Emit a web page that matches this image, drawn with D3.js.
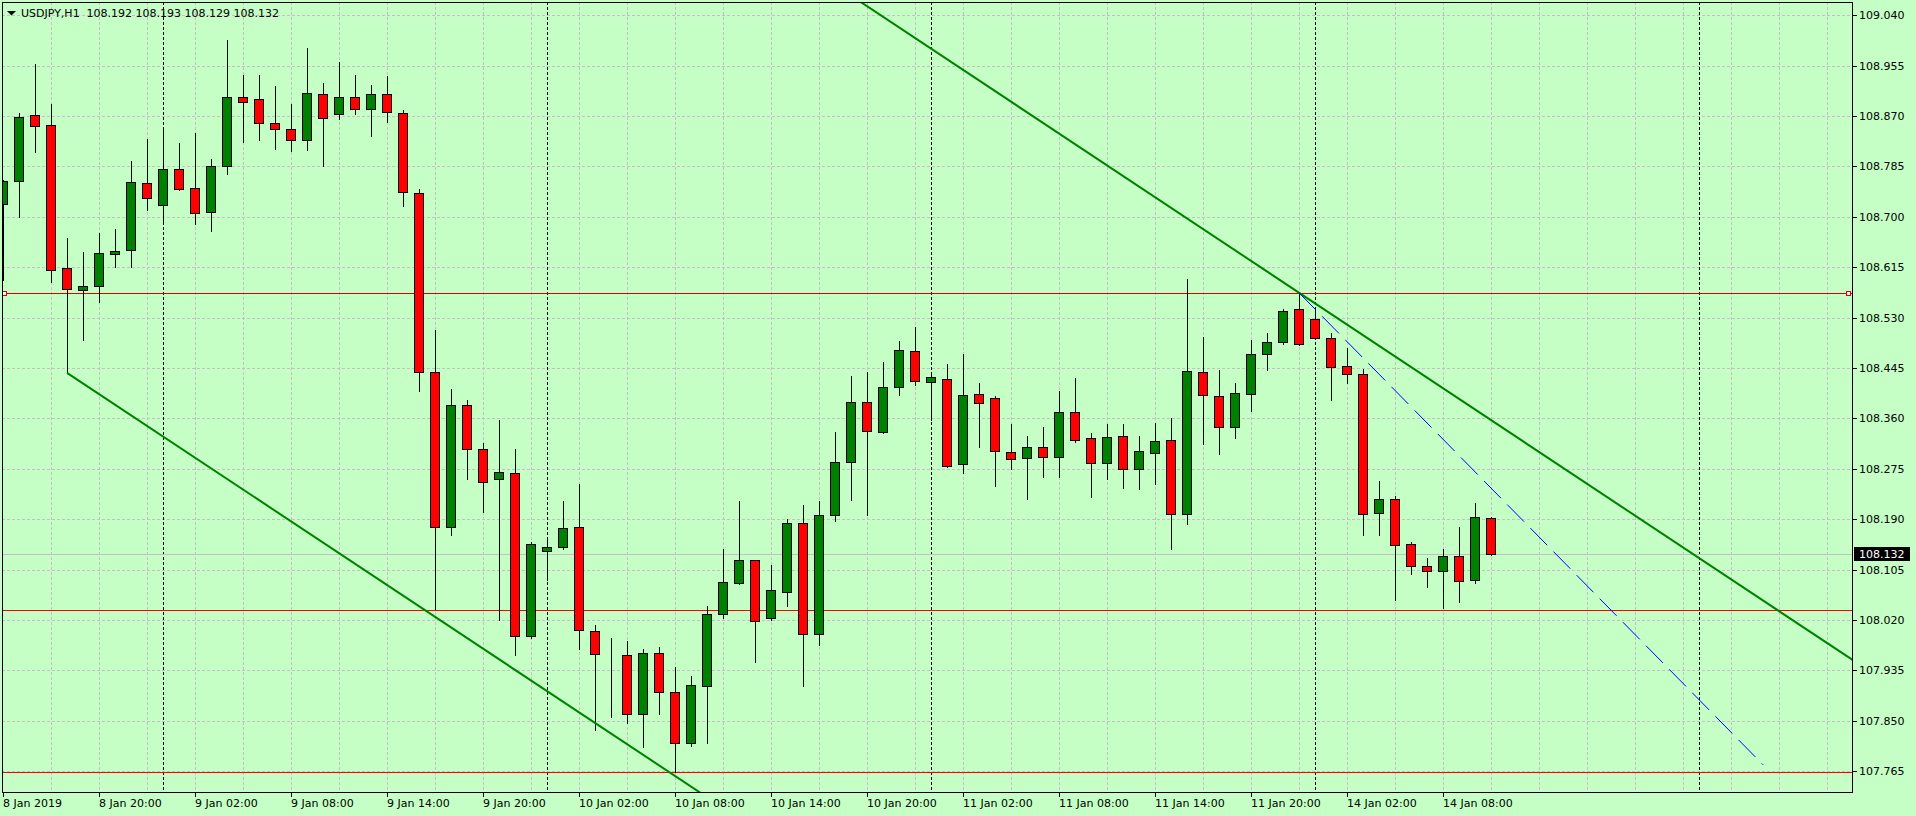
<!DOCTYPE html>
<html><head><meta charset="utf-8">
<script src="https://cdn.jsdelivr.net/npm/d3@7"></script>
<style>
html,body{margin:0;padding:0;background:#c5ffc5;overflow:hidden}
svg{display:block}
text{font-family:"DejaVu Sans",sans-serif;font-size:11px;fill:#000}
</style>
</head><body><svg id="chart" width="1916" height="816"></svg>
<script>
// ---------- data ----------
const chartTitle = "USDJPY,H1  108.192 108.193 108.129 108.132";
const openVals = [108.722,108.760,108.871,108.855,108.614,108.576,108.583,108.637,108.644,108.757,
 108.720,108.781,108.749,108.708,108.786,108.903,108.898,108.859,108.849,108.830,
 108.908,108.874,108.903,108.882,108.908,108.876,108.741,108.438,108.177,108.382,
 108.309,108.258,108.268,107.993,108.136,108.144,108.177,108.002,107.965,107.961,
 107.862,107.965,107.899,107.812,107.909,108.031,108.083,108.121,108.024,108.068,
 108.183,107.997,108.197,108.287,108.388,108.337,108.413,108.473,108.422,108.427,
 108.283,108.402,108.395,108.304,108.294,108.312,108.295,108.371,108.327,108.285,
 108.331,108.275,108.302,108.324,108.199,108.439,108.398,108.346,108.402,108.468,
 108.489,108.544,108.528,108.496,108.449,108.435,108.200,108.224,108.148,108.111,
 108.103,108.128,108.087,108.192];
const highVals = [108.763,108.876,108.957,108.891,108.665,108.640,108.672,108.680,108.795,108.831,
 108.852,108.825,108.842,108.798,108.998,108.940,108.940,108.920,108.890,108.984,
 108.925,108.961,108.939,108.923,108.937,108.881,108.747,108.510,108.410,108.391,
 108.318,108.357,108.308,108.152,108.160,108.221,108.249,108.012,107.990,107.984,
 107.971,107.975,107.940,107.925,108.043,108.139,108.220,108.122,108.113,108.190,
 108.214,108.221,108.338,108.431,108.439,108.455,108.490,108.514,108.437,108.452,
 108.468,108.420,108.398,108.350,108.330,108.345,108.406,108.428,108.335,108.350,
 108.350,108.331,108.353,108.360,108.595,108.498,108.441,108.420,108.492,108.504,
 108.544,108.572,108.544,108.504,108.478,108.443,108.255,108.230,108.151,108.124,
 108.140,108.177,108.218,108.193];
const lowVals = [108.593,108.699,108.809,108.591,108.437,108.493,108.556,108.615,108.615,108.711,
 108.693,108.745,108.688,108.676,108.772,108.826,108.829,108.814,108.811,108.813,
 108.786,108.865,108.873,108.836,108.860,108.718,108.407,108.039,108.164,108.258,
 108.203,108.020,107.961,107.990,108.088,108.139,107.972,107.834,107.856,107.847,
 107.806,107.862,107.763,107.808,107.812,108.024,108.080,107.950,108.020,108.043,
 107.908,107.978,108.187,108.222,108.198,108.336,108.399,108.416,108.358,108.278,
 108.268,108.312,108.246,108.275,108.224,108.261,108.262,108.320,108.227,108.258,
 108.242,108.241,108.249,108.139,108.182,108.317,108.300,108.327,108.372,108.442,
 108.486,108.484,108.494,108.391,108.420,108.163,108.163,108.053,108.098,108.075,
 108.040,108.050,108.082,108.129];
const closeVals = [108.761,108.869,108.854,108.611,108.578,108.584,108.639,108.643,108.759,108.732,
 108.781,108.747,108.707,108.786,108.903,108.894,108.859,108.849,108.830,108.909,
 108.867,108.903,108.882,108.908,108.877,108.742,108.438,108.177,108.382,108.308,
 108.252,108.270,107.993,108.149,108.144,108.175,108.003,107.963,107.964,107.861,
 107.965,107.899,107.812,107.910,108.031,108.084,108.122,108.018,108.071,108.184,
 107.997,108.197,108.287,108.388,108.339,108.413,108.476,108.424,108.430,108.279,
 108.400,108.386,108.305,108.292,108.312,108.295,108.371,108.324,108.285,108.329,
 108.275,108.305,108.322,108.199,108.440,108.400,108.346,108.403,108.468,108.489,
 108.542,108.486,108.495,108.447,108.435,108.199,108.224,108.147,108.111,108.103,
 108.128,108.086,108.194,108.132];
const xTickBars = [0,6,12,18,24,30,36,42,48,54,60,66,72,78,84,90];
const xTickLabels = ["8 Jan 2019","8 Jan 20:00","9 Jan 02:00","9 Jan 08:00","9 Jan 14:00","9 Jan 20:00",
 "10 Jan 02:00","10 Jan 08:00","10 Jan 14:00","10 Jan 20:00","11 Jan 02:00","11 Jan 08:00",
 "11 Jan 14:00","11 Jan 20:00","14 Jan 02:00","14 Jan 08:00"];
const yTickValues = [109.040,108.955,108.870,108.785,108.700,108.615,108.530,108.445,108.360,
 108.275,108.190,108.105,108.020,107.935,107.850,107.765];
const daySeparatorBars = [10,34,58,82,106];
const gridBars = d3.range(3, 115, 3);
const horizontalLevels = [108.571, 108.037, 107.763];
const bidPrice = 108.132;
const upperChannel = [[40,109.306],[120,107.874]];
const lowerChannel = [[4,108.437],[60,107.435]];
const blueTrend = [[81,108.572],[110,107.776]];

// ---------- layout ----------
const W = 1916, H = 816;
const L = 2, T = 2, R = 1852, B = 792;
const svg = d3.select("#chart");
const x = d3.scaleLinear().domain([0, 115]).range([3, 1843]);
const y = d3.scaleLinear().domain([107.730, 109.0624]).range([B, T]);
const px = v => Math.round(v) + 0.5;
const gridColor = "#c6c0c6";

svg.append("rect").attr("width", W).attr("height", H).attr("fill", "#c5ffc5");

svg.append("defs").append("clipPath").attr("id", "plotClip")
  .append("rect").attr("x", L + 1).attr("y", T + 1).attr("width", R - L - 1).attr("height", B - T - 1);

const plot = svg.append("g").attr("clip-path", "url(#plotClip)");

// grid
plot.append("g").selectAll("line").data(yTickValues).join("line")
  .attr("x1", L).attr("x2", R)
  .attr("y1", d => px(y(d))).attr("y2", d => px(y(d)))
  .attr("stroke", gridColor).attr("stroke-dasharray", "3,2");
plot.append("g").selectAll("line").data(gridBars).join("line")
  .attr("x1", d => px(x(d))).attr("x2", d => px(x(d)))
  .attr("y1", T).attr("y2", B)
  .attr("stroke", gridColor).attr("stroke-dasharray", "3,2");

// day separators
plot.append("g").selectAll("line").data(daySeparatorBars).join("line")
  .attr("x1", d => px(x(d))).attr("x2", d => px(x(d)))
  .attr("y1", T).attr("y2", B)
  .attr("stroke", "#000").attr("stroke-dasharray", "3,2");

// bid line
plot.append("line").attr("x1", L).attr("x2", R)
  .attr("y1", px(y(bidPrice))).attr("y2", px(y(bidPrice)))
  .attr("stroke", "#c0c0c0");

// horizontal levels
plot.append("g").selectAll("line").data(horizontalLevels).join("line")
  .attr("x1", L).attr("x2", R)
  .attr("y1", d => px(y(d))).attr("y2", d => px(y(d)))
  .attr("stroke", (d, i) => i === 0 ? "#dd0000" : "#ff0000");

// candles
const bars = d3.range(openVals.length);
const cg = plot.append("g");
cg.selectAll("line").data(bars).join("line")
  .attr("x1", i => px(x(i))).attr("x2", i => px(x(i)))
  .attr("y1", i => Math.round(y(highVals[i]))).attr("y2", i => Math.round(y(lowVals[i])) + 1)
  .attr("stroke", "#000");
cg.selectAll("rect").data(bars).join("rect")
  .attr("x", i => Math.round(x(i)) - 4.5)
  .attr("width", 9)
  .attr("y", i => px(y(Math.max(openVals[i], closeVals[i]))))
  .attr("height", i => Math.max(0, Math.round(y(Math.min(openVals[i], closeVals[i]))) - Math.round(y(Math.max(openVals[i], closeVals[i])))))
  .attr("fill", i => closeVals[i] >= openVals[i] ? "#008000" : "#ff0000")
  .attr("stroke", "#000");

// trend lines
const tl = d3.line().x(d => x(d[0])).y(d => y(d[1]));
plot.append("path").attr("d", tl(upperChannel)).attr("fill", "none").attr("stroke", "#008000").attr("stroke-width", 2);
plot.append("path").attr("d", tl(lowerChannel)).attr("fill", "none").attr("stroke", "#008000").attr("stroke-width", 2);
plot.append("path").attr("d", tl(blueTrend)).attr("fill", "none").attr("stroke", "#0000ff").attr("stroke-width", 1).attr("stroke-dasharray", "24,9");

// selection markers on first level
[L + 3, R - 3].forEach(cx => {
  svg.append("rect").attr("x", cx - 2.5).attr("y", px(y(horizontalLevels[0])) - 2)
    .attr("width", 4).attr("height", 4).attr("fill", "#ffffff").attr("stroke", "#dd0000");
});

// frame
svg.append("rect").attr("x", L + 0.5).attr("y", T + 0.5).attr("width", R - L).attr("height", B - T)
  .attr("fill", "none").attr("stroke", "#000");

// y axis
const ya = svg.append("g");
ya.selectAll("line").data(yTickValues).join("line")
  .attr("x1", R).attr("x2", R + 5)
  .attr("y1", d => px(y(d))).attr("y2", d => px(y(d))).attr("stroke", "#000");
ya.selectAll("text").data(yTickValues).join("text")
  .attr("x", R + 7).attr("y", d => y(d)).attr("dy", "0.36em")
  .text(d => d3.format(".3f")(d));

// bid label
const bidY = y(bidPrice);
svg.append("rect").attr("x", R + 2).attr("y", Math.round(bidY) - 7).attr("width", 56).attr("height", 14).attr("fill", "#000");
svg.append("text").attr("x", R + 7).attr("y", bidY).attr("dy", "0.36em").style("fill", "#ffffff")
  .text(d3.format(".3f")(bidPrice));

// x axis
const xa = svg.append("g");
xa.selectAll("line").data(xTickBars).join("line")
  .attr("x1", d => px(x(d))).attr("x2", d => px(x(d)))
  .attr("y1", B).attr("y2", B + 5).attr("stroke", "#000");
xa.selectAll("text").data(xTickBars).join("text")
  .attr("x", d => Math.round(x(d))).attr("y", 803).attr("dy", "0.36em")
  .text((d, i) => xTickLabels[i]);

// title
svg.append("path").attr("d", "M7,11 L16,11 L11.5,15.5 Z").attr("fill", "#000");
svg.append("text").attr("x", 21).attr("y", 13).attr("dy", "0.36em").style("white-space", "pre")
  .text(chartTitle);
</script>
</body></html>
